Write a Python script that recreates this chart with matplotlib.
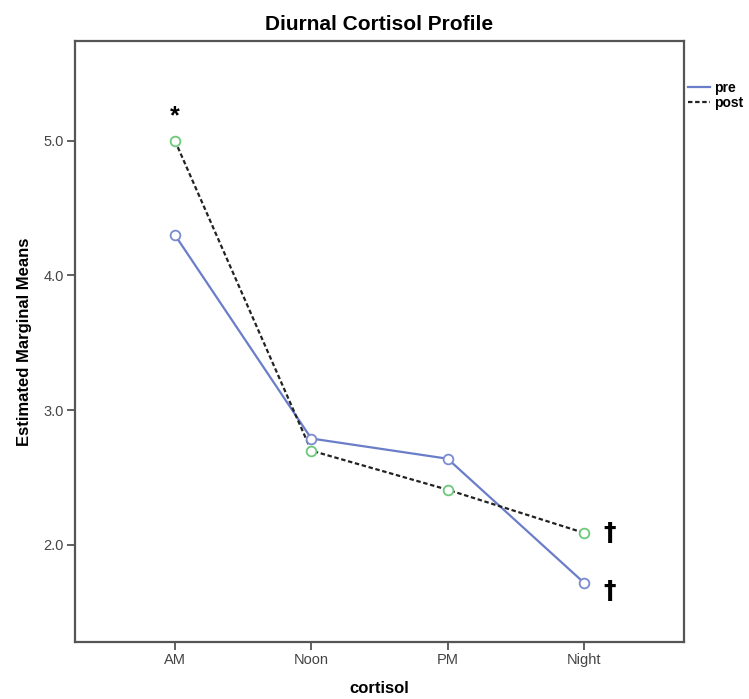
import matplotlib.pyplot as plt
import numpy as np

plt.rcParams['font.family'] = ['Liberation Sans', 'DejaVu Sans']

# data
times = ['AM', 'Noon', 'PM', 'Night']
pre = [4.30, 2.79, 2.64, 1.72]
post = [5.00, 2.70, 2.41, 2.09]
yticks = [2.0, 3.0, 4.0, 5.0]

x = np.arange(len(times))

fig = plt.figure(figsize=(7.49, 6.99), dpi=100)
ax = fig.add_axes([0.1001, 0.0815, 0.813, 0.860])

ax.plot(x, pre, color='#6a7dc9', lw=1.6, label='pre', zorder=3)
ax.plot(x, pre, 'o', mfc='white', mec='#7a8bd0', ms=7, mew=1.3, zorder=4)
ax.plot(x, post, color='#222222', lw=1.6, ls=(0, (2, 1.2)), label='post', zorder=3)
ax.plot(x, post, 'o', mfc='white', mec='#6cc97a', ms=7, mew=1.3, zorder=4)

# significance marks
ax.text(x[0], post[0] + 0.09, '*', ha='center', va='bottom', fontsize=18, fontweight='bold')
ax.text(x[3] + 0.19, post[3], '†', ha='center', va='center', fontsize=18, fontweight='heavy',
        family='DejaVu Sans')
ax.text(x[3] + 0.19, pre[3] - 0.06, '†', ha='center', va='center', fontsize=18, fontweight='heavy',
        family='DejaVu Sans')

ax.set_xlim(-0.733, 3.733)
ax.set_ylim(1.28, 5.74)
ax.set_xticks(x)
ax.set_xticklabels(times)
ax.set_yticks(yticks)
ax.set_yticklabels(['%.1f' % v for v in yticks])
ax.tick_params(colors='#444444', labelsize=10.5, length=6, width=1.2, labelcolor='#444444', pad=2)
for s in ax.spines.values():
    s.set_color('#555555')
    s.set_linewidth(1.6)

ax.set_title('Diurnal Cortisol Profile', fontsize=15, fontweight='bold', pad=8)
ax.set_xlabel('cortisol', fontsize=12, fontweight='bold', labelpad=10)
ax.set_ylabel('Estimated Marginal Means', fontsize=12, fontweight='bold', labelpad=8)

leg = ax.legend(loc='upper left', bbox_to_anchor=(1.0, 0.94), frameon=False,
                handlelength=1.6, handletextpad=0.3, labelspacing=0.05,
                borderaxespad=0.2, borderpad=0.1, prop={'weight': 'bold', 'size': 10})

fig.savefig('out.png', dpi=100)
